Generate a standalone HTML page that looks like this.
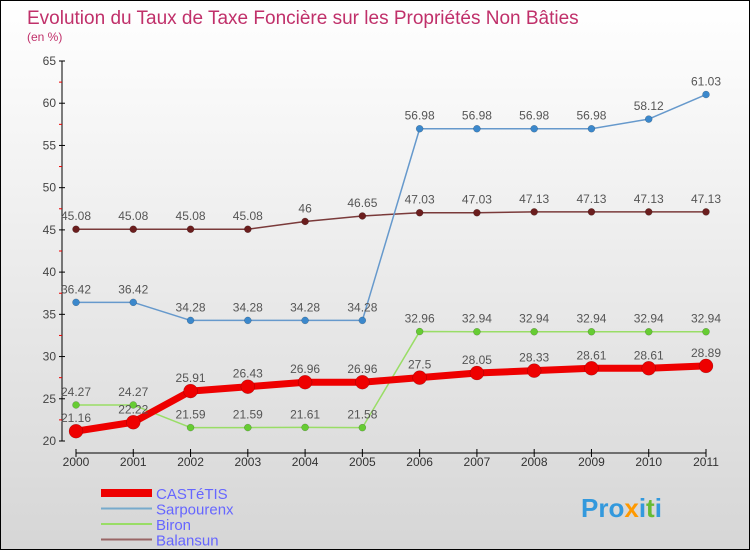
<!DOCTYPE html>
<html><head><meta charset="utf-8"><style>
body{margin:0}
#c{width:750px;height:550px;position:relative;box-sizing:border-box;border:1px solid #000;background:linear-gradient(#ffffff,#f3f3f3 30%,#d6d6d6);font-family:"Liberation Sans",sans-serif;overflow:hidden}
svg text{font-family:"Liberation Sans",sans-serif}
</style></head><body>
<div id="c">
<svg width="750" height="550">
<text x="26" y="23" font-size="19" fill="#c0306a">Evolution du Taux de Taxe Foncière sur les Propriétés Non Bâties</text>
<text x="26" y="40" font-size="12" fill="#c0306a">(en %)</text>
<g id="axes"></g><g id="series"></g><g id="legend"></g>
</svg></div>
<script>
const years=["2000","2001","2002","2003","2004","2005","2006","2007","2008","2009","2010","2011"];
const yTicks=[20,25,30,35,40,45,50,55,60,65];
const castetis=[21.16,22.22,25.91,26.43,26.96,26.96,27.5,28.05,28.33,28.61,28.61,28.89];
const sarpourenx=[36.42,36.42,34.28,34.28,34.28,34.28,56.98,56.98,56.98,56.98,58.12,61.03];
const biron=[24.27,24.27,21.59,21.59,21.61,21.58,32.96,32.94,32.94,32.94,32.94,32.94];
const balansun=[45.08,45.08,45.08,45.08,46,46.65,47.03,47.03,47.13,47.13,47.13,47.13];
const NS="http://www.w3.org/2000/svg";
const X=i=>75+i*(705-75)/(years.length-1);
const Y=v=>440-(v-20)*(380/45);
function mk(t,a,p){const e=document.createElementNS(NS,t);for(const k in a)e.setAttribute(k,a[k]);p.appendChild(e);return e;}
const ax=document.getElementById('axes');
mk('line',{x1:61,y1:60,x2:61,y2:440,stroke:'#000','stroke-width':1},ax);
mk('line',{x1:75,y1:452,x2:705,y2:452,stroke:'#000','stroke-width':1},ax);
yTicks.forEach(v=>{
 mk('line',{x1:58,y1:Y(v),x2:64,y2:Y(v),stroke:'#000'},ax);
 const t=mk('text',{x:55,y:Y(v)+4,'font-size':12,fill:'#444','text-anchor':'end'},ax);
 
 
 t.textContent=v;
 if(v<65){mk('line',{x1:58,y1:Y(v+2.5),x2:61,y2:Y(v+2.5),stroke:'#e00'},ax);}
});
years.forEach((y,i)=>{
 mk('line',{x1:X(i),y1:448,x2:X(i),y2:456,stroke:'#000'},ax);
 const t=mk('text',{x:X(i),y:465,'font-size':12,fill:'#333','text-anchor':'middle'},ax);
 
 
 t.textContent=y;
});
const sg=document.getElementById('series');
function series(name,data,color,dot,w,r,labels){
 const g=mk('g',{},sg);
 
 
 mk('polyline',{points:data.map((v,i)=>X(i)+','+Y(v)).join(' '),fill:'none',stroke:color,'stroke-width':w,'stroke-linejoin':'round'},g);
 data.forEach((v,i)=>{
  const c=mk('circle',{cx:X(i),cy:Y(v),r:r,fill:dot,stroke:'rgba(0,0,0,0.3)','stroke-width':0.5},g);
  
  
  if(labels){const t=mk('text',{x:X(i),y:Y(v)-9,'font-size':12,fill:'#555','text-anchor':'middle'},g);
  
  
  t.textContent=v;}
 });
}
series('balansun',balansun,'#7a3a3a','#6b1e1e',1.5,3.5,true);
series('sarpourenx',sarpourenx,'#6699cc','#3b88cc',1.5,3.5,true);
series('biron',biron,'#99dd66','#66cc33',1.5,3.5,true);
series('castetis',castetis,'#ee0000','#ee0000',7,7,true);
const lg=document.getElementById('legend');
[['CASTéTIS','#ee0000',8],['Sarpourenx','#77aacc',2],['Biron','#99dd66',2],['Balansun','#996666',2]].forEach((e,i)=>{
 const y=492+i*15.5;
 const g=mk('g',{},lg);
 
 
 mk('line',{x1:100,y1:y,x2:151,y2:y,stroke:e[1],'stroke-width':e[2]},g);
 const t=mk('text',{x:155,y:y+6,'font-size':15,fill:'#6666ff'},g);
 t.textContent=e[0];
});
const logo=mk('text',{x:580,y:516,'font-size':26,'font-weight':'bold',fill:'#3399dd'},lg);


logo.innerHTML='Pro<tspan fill="#ff9900">x</tspan>i<tspan fill="#66bb33">t</tspan>i';
</script>
</body></html>
